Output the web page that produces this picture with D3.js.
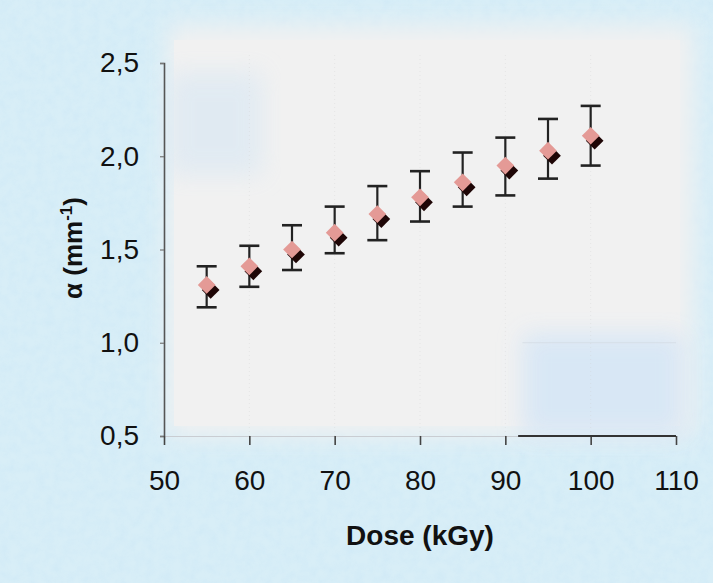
<!DOCTYPE html>
<html>
<head>
<meta charset="utf-8">
<script src="https://cdn.jsdelivr.net/npm/d3@7"></script>
<style>
  html, body { margin: 0; padding: 0; background: #d6ecf6; }
  svg { display: block; font-family: "Liberation Sans", Arial, sans-serif; }
</style>
</head>
<body>
<svg id="chart" width="713" height="583"></svg>
<script>
// dose (kGy) and absorption coefficient alpha (mm^-1)
const doses = [55, 60, 65, 70, 75, 80, 85, 90, 95, 100];
const alpha = [1.31, 1.41, 1.50, 1.59, 1.69, 1.78, 1.86, 1.95, 2.03, 2.11];
const errHigh = [1.41, 1.52, 1.63, 1.73, 1.84, 1.92, 2.02, 2.10, 2.20, 2.27];
const errLow = [1.19, 1.30, 1.39, 1.48, 1.55, 1.65, 1.73, 1.79, 1.88, 1.95];
const xTicks = [50, 60, 70, 80, 90, 100, 110];
const yTicks = [0.5, 1.0, 1.5, 2.0, 2.5];

const svg = d3.select('#chart');
const W = 713, H = 583;

const x = d3.scaleLinear().domain([50, 110]).range([164, 676]);
const y = d3.scaleLinear().domain([0.5, 2.5]).range([436, 63]);

// background texture
const defs = svg.append('defs');
const tex = defs.append('filter').attr('id', 'tex').attr('x', 0).attr('y', 0).attr('width', 1).attr('height', 1);
tex.append('feTurbulence').attr('type', 'fractalNoise').attr('baseFrequency', 0.11).attr('numOctaves', 3).attr('seed', 4);
tex.append('feColorMatrix').attr('type', 'matrix')
  .attr('values', '0 0 0 0 0.6  0 0 0 0 0.8  0 0 0 0 0.92  0 0 0 -1.6 1.1');
const blur = defs.append('filter').attr('id', 'soft').attr('x', -0.2).attr('y', -0.2).attr('width', 1.4).attr('height', 1.4);
blur.append('feGaussianBlur').attr('stdDeviation', 12);

svg.append('rect').attr('width', W).attr('height', H).attr('fill', '#d8eef7');
svg.append('rect').attr('width', W).attr('height', H).attr('filter', 'url(#tex)').attr('opacity', 0.5);

// light plot panel
svg.append('rect')
  .attr('x', x(50) + 4).attr('y', 25)
  .attr('width', x(110) - x(50) + 14).attr('height', y(0.5) - 25)
  .attr('fill', '#f1f1f1').attr('filter', 'url(#soft)');
svg.append('rect')
  .attr('x', x(50) + 10).attr('y', 40)
  .attr('width', x(110) - x(50) - 6).attr('height', y(0.5) - 50)
  .attr('fill', '#f1f1f1');

// bluish patches inside the panel
svg.append('rect').attr('x', x(50) + 4).attr('y', y(2.45)).attr('width', x(61) - x(50))
  .attr('height', y(1.9) - y(2.45)).attr('fill', '#dde9f3').attr('filter', 'url(#soft)').attr('opacity', 0.8);
svg.append('rect').attr('x', x(92)).attr('y', y(1.05)).attr('width', x(111) - x(92))
  .attr('height', y(0.5) - y(1.05)).attr('fill', '#d6e6f6').attr('filter', 'url(#soft)').attr('opacity', 0.9);

// faint gridlines
const grid = svg.append('g');
grid.selectAll('line.v')
  .data(xTicks.slice(1, -1))
  .enter().append('line')
  .attr('x1', d => x(d)).attr('x2', d => x(d))
  .attr('y1', y(2.5) - 8).attr('y2', y(0.5))
  .attr('stroke', '#cfcfcf').attr('stroke-width', 1).attr('stroke-dasharray', '1,3').attr('opacity', 0.35);
grid.append('line')
  .attr('x1', x(92)).attr('x2', x(110))
  .attr('y1', y(1.0)).attr('y2', y(1.0))
  .attr('stroke', '#cfd6de').attr('stroke-width', 1).attr('opacity', 0.6);

// y axis
const yAxis = svg.append('g')
  .attr('transform', `translate(${x(50)},0)`)
  .call(d3.axisLeft(y).tickValues(yTicks).tickSize(4).tickPadding(21)
    .tickFormat(d => d3.format('.1f')(d).replace('.', ',')));
yAxis.select('.domain').attr('stroke', '#555').attr('stroke-width', 1.6);
yAxis.selectAll('.tick line').attr('stroke', '#777').attr('stroke-width', 1.2);
yAxis.selectAll('.tick text').attr('font-size', 28).attr('fill', '#111')
  .attr('font-family', '"Liberation Sans", Arial, sans-serif');

// x axis
const xAxis = svg.append('g')
  .attr('transform', `translate(0,${y(0.5)})`)
  .call(d3.axisBottom(x).tickValues(xTicks).tickSize(9).tickSizeOuter(0).tickPadding(25));
xAxis.select('.domain').attr('stroke', '#c9cdd2').attr('stroke-width', 1.2);
xAxis.selectAll('.tick line').attr('stroke', '#444').attr('stroke-width', 1.6);
xAxis.selectAll('.tick text').attr('font-size', 28).attr('fill', '#111')
  .attr('font-family', '"Liberation Sans", Arial, sans-serif');
svg.append('line')
  .attr('x1', x(91.5)).attr('x2', x(110))
  .attr('y1', y(0.5)).attr('y2', y(0.5))
  .attr('stroke', '#333').attr('stroke-width', 2);

// error bars
const bars = svg.append('g');
const capW = 10;
doses.forEach((d, i) => {
  bars.append('line')
    .attr('x1', x(d)).attr('x2', x(d))
    .attr('y1', y(errHigh[i])).attr('y2', y(errLow[i]))
    .attr('stroke', '#222').attr('stroke-width', 2.2);
  [errHigh[i], errLow[i]].forEach(v => {
    bars.append('line')
      .attr('x1', x(d) - capW).attr('x2', x(d) + capW)
      .attr('y1', y(v)).attr('y2', y(v))
      .attr('stroke', '#222').attr('stroke-width', 2.6);
  });
});

// diamonds with dark shadow
const diamond = d3.symbol().type(d3.symbolDiamond2).size(200);
const pts = svg.append('g');
pts.selectAll('path.shadow')
  .data(doses)
  .enter().append('path')
  .attr('class', 'shadow')
  .attr('d', diamond)
  .attr('transform', (d, i) => `translate(${x(d) + 4},${y(alpha[i]) + 5})`)
  .attr('fill', '#1e0606');
pts.selectAll('path.mark')
  .data(doses)
  .enter().append('path')
  .attr('class', 'mark')
  .attr('d', diamond)
  .attr('transform', (d, i) => `translate(${x(d)},${y(alpha[i])})`)
  .attr('fill', '#e49a96');

// axis titles
svg.append('text')
  .attr('x', 420).attr('y', 545)
  .attr('text-anchor', 'middle')
  .attr('font-size', 28).attr('font-weight', 'bold').attr('fill', '#111')
  .text('Dose (kGy)');

const yTitle = svg.append('text')
  .attr('transform', 'translate(82,248) rotate(-90)')
  .attr('text-anchor', 'middle')
  .attr('font-size', 26).attr('font-weight', 'bold').attr('fill', '#111');
yTitle.append('tspan').text('α (mm');
yTitle.append('tspan').attr('dy', -10).attr('font-size', 17).text('-1');
yTitle.append('tspan').attr('dy', 10).text(')');
</script>
</body>
</html>
